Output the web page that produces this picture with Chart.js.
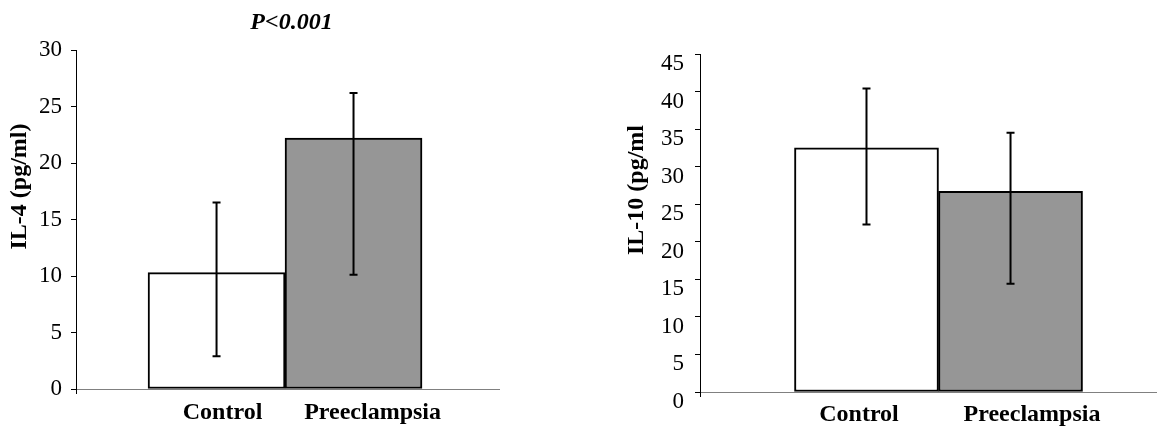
<!DOCTYPE html>
<html>
<head>
<meta charset="utf-8">
<script src="https://cdn.jsdelivr.net/npm/chart.js@4.4.1/dist/chart.umd.min.js"></script>
<style>
  html, body { margin: 0; padding: 0; background: #fff; }
  #wrap { position: relative; width: 1157px; height: 427px; overflow: hidden; }
  #il4Chart { position: absolute; left: 0; top: 0; }
  #il10Chart { position: absolute; left: 578px; top: 0; }
</style>
</head>
<body>
<div id="wrap">
  <canvas id="il4Chart" width="578" height="427"></canvas>
  <canvas id="il10Chart" width="579" height="427"></canvas>
</div>
<script>
const groups = ["Control", "Preeclampsia"];
const barColors = ["#ffffff", "#969696"];

// IL-4 (pg/ml): bar height, top and bottom of the error bar
const il4Mean = [10.3, 22.2];
const il4High = [16.5, 26.2];
const il4Low = [2.9, 10.1];

// IL-10 (pg/ml)
const il10Mean = [32.5, 26.7];
const il10High = [40.4, 34.5];
const il10Low = [22.3, 14.4];

const serif = "'Liberation Serif', 'Times New Roman', serif";

function extras(cfg) {
  return {
    id: "extras",
    afterDatasetsDraw(chart) {
      const meta = chart.getDatasetMeta(0);
      const x = chart.scales.x;
      const y = chart.scales.y;
      const ctx = chart.ctx;
      ctx.save();
      ctx.strokeStyle = "#000";
      ctx.lineWidth = 2;
      meta.data.forEach((bar, i) => {
        const top = y.getPixelForValue(cfg.high[i]);
        const bottom = y.getPixelForValue(cfg.low[i]);
        ctx.beginPath();
        ctx.moveTo(bar.x, top);
        ctx.lineTo(bar.x, bottom);
        ctx.moveTo(bar.x - 4, top);
        ctx.lineTo(bar.x + 4, top);
        ctx.moveTo(bar.x - 4, bottom);
        ctx.lineTo(bar.x + 4, bottom);
        ctx.stroke();
      });
      // little stub of the value axis below the base line
      ctx.lineWidth = 1;
      ctx.beginPath();
      ctx.moveTo(y.right + 0.5, y.bottom);
      ctx.lineTo(y.right + 0.5, y.bottom + 5);
      ctx.stroke();

      ctx.fillStyle = "#000";
      ctx.textAlign = "center";
      ctx.textBaseline = "middle";
      // axis title, sits a bit above the middle of the axis
      ctx.font = `bold 24px ${serif}`;
      ctx.translate(cfg.yTitleX, (y.top + y.bottom) / 2 - 33);
      ctx.rotate(-Math.PI / 2);
      ctx.fillText(cfg.yTitle, 0, 0);
      ctx.setTransform(1, 0, 0, 1, 0, 0);
      if (cfg.heading) {
        ctx.font = `italic bold 24px ${serif}`;
        ctx.fillText(cfg.heading, (x.left + x.right) / 2 + 4, 23);
      }
      ctx.restore();
    },
  };
}

function makeChart(id, cfg) {
  return new Chart(document.getElementById(id), {
    type: "bar",
    data: {
      datasets: [{
        data: groups.map((g, i) => ({ x: i + 1, y: cfg.mean[i] })),
        backgroundColor: barColors,
        borderColor: "#000",
        borderWidth: 2,
        borderSkipped: false,
        barPercentage: 1,
        categoryPercentage: 1,
      }],
    },
    options: {
      responsive: false,
      animation: false,
      devicePixelRatio: 1,
      layout: { padding: cfg.padding },
      plugins: {
        legend: { display: false },
        tooltip: { enabled: false },
        title: { display: false },
      },
      scales: {
        x: {
          type: "linear",
          min: cfg.xMin,
          max: cfg.xMax,
          offset: false,
          grid: { display: false, drawTicks: false, offset: false },
          border: { color: "#808080", width: 1 },
          afterBuildTicks: (s) => { s.ticks = cfg.labelAt.map((v) => ({ value: v })); },
          ticks: {
            autoSkip: false,
            maxRotation: 0,
            callback: (v, i) => groups[i],
            font: { family: serif, size: 24, weight: "bold" },
            color: "#000",
            padding: cfg.xPad,
          },
          afterFit: (s) => { s.height = cfg.xHeight; },
        },
        y: {
          min: 0,
          max: cfg.yMax,
          ticks: {
            stepSize: 5,
            font: { family: serif, size: 23 },
            color: "#000",
            padding: cfg.yPad,
            labelOffset: cfg.labelShift,
          },
          grid: { drawOnChartArea: false, drawTicks: true, tickLength: 5, color: "#000" },
          border: { color: "#000", width: 1 },
          afterFit: (s) => { s.width = cfg.yWidth; },
        },
      },
    },
    plugins: [extras(cfg)],
  });
}

makeChart("il4Chart", {
  mean: il4Mean, high: il4High, low: il4Low,
  yMax: 30, yTitle: "IL-4 (pg/ml)", yTitleX: 20,
  heading: "P<0.001",
  xMin: -0.026, xMax: 3.062, labelAt: [1.044, 2.139],
  padding: { left: 0, right: 79, top: 50, bottom: 0 },
  yWidth: 76, yPad: 9, labelShift: 0,
  xHeight: 38, xPad: 9,
});

makeChart("il10Chart", {
  mean: il10Mean, high: il10High, low: il10Low,
  yMax: 45, yTitle: "IL-10 (pg/ml", yTitleX: 59,
  heading: null,
  xMin: -0.156, xMax: 3.017, labelAt: [0.948, 2.149],
  padding: { left: 0, right: 0, top: 54, bottom: 0 },
  yWidth: 122, yPad: 11, labelShift: 10,
  xHeight: 35, xPad: 8,
});
</script>
</body>
</html>
